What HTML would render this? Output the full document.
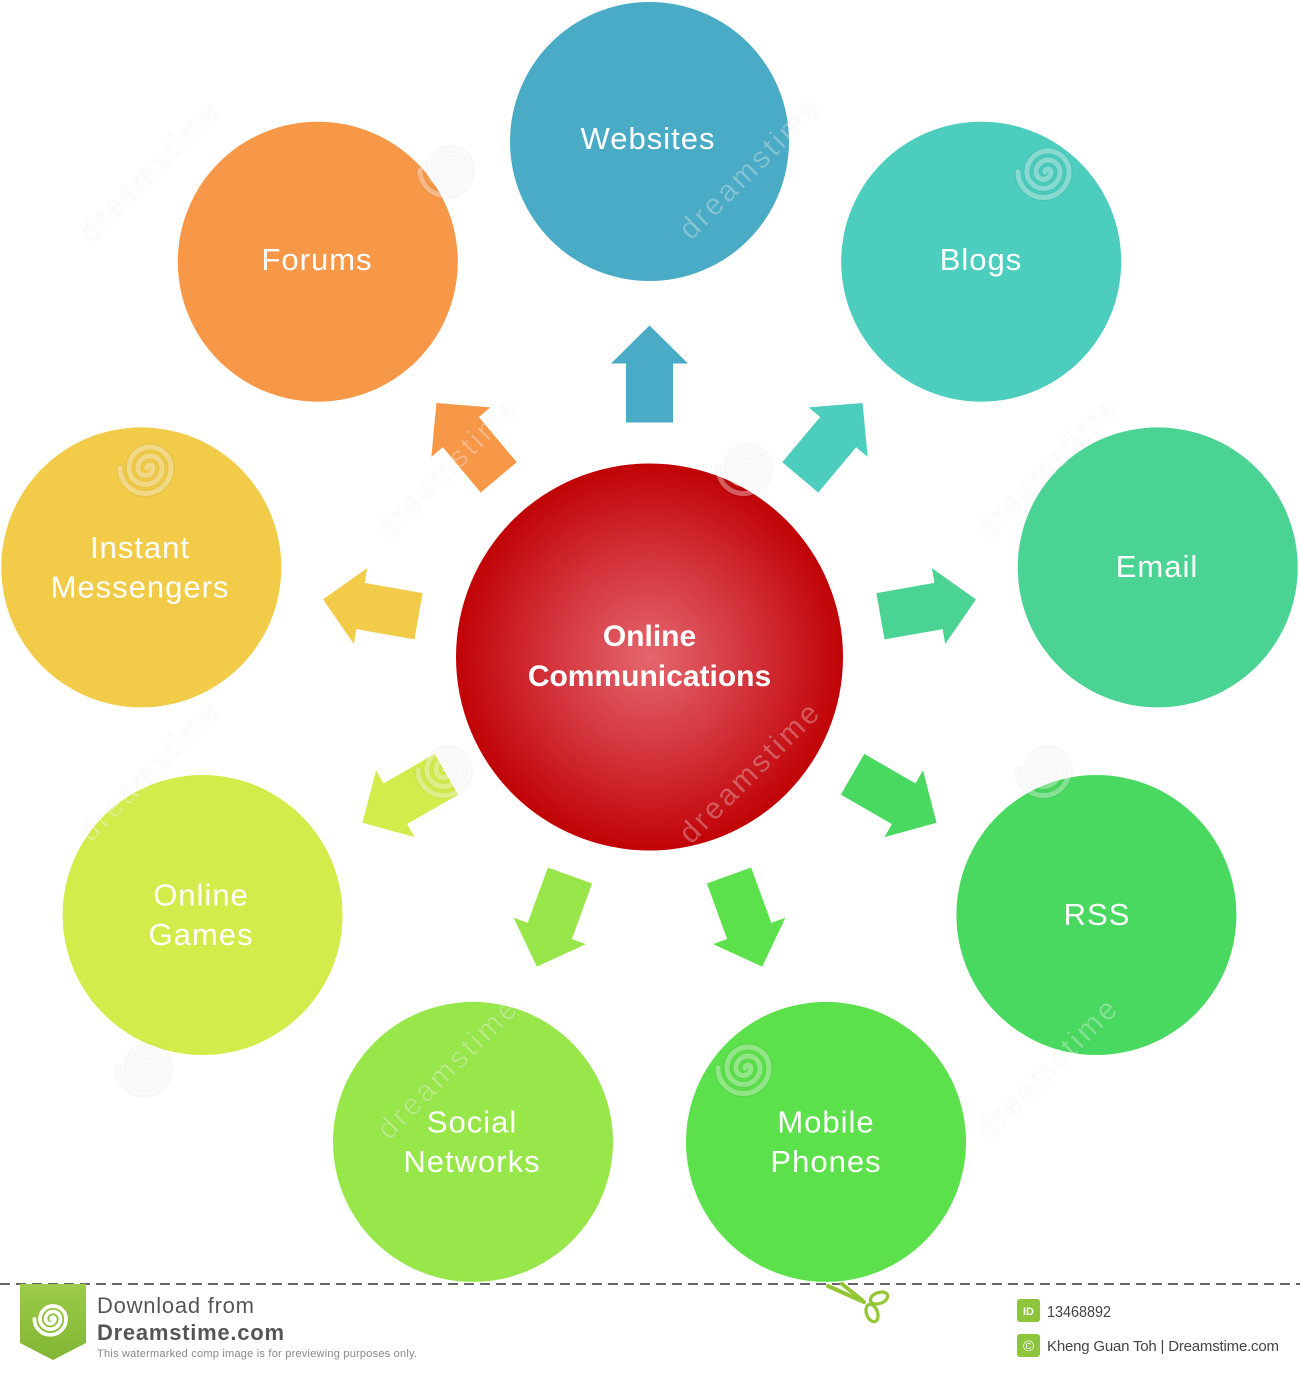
<!DOCTYPE html>
<html>
<head>
<meta charset="utf-8">
<style>
  html,body{margin:0;padding:0;background:#fff;}
  svg{display:block;}
  .lbl{font-family:"Liberation Sans",sans-serif;font-size:31px;fill:#fff;letter-spacing:1px;text-anchor:middle;}
  .ctr{font-family:"Liberation Sans",sans-serif;font-size:30px;font-weight:bold;fill:#fff;text-anchor:middle;}
  .wm{font-family:"Liberation Sans",sans-serif;font-size:30px;fill:#fff;fill-opacity:0.3;stroke:#000;stroke-opacity:0.03;stroke-width:1;letter-spacing:3px;text-anchor:middle;}
  .ft{font-family:"Liberation Sans",sans-serif;}
</style>
</head>
<body>
<svg width="1300" height="1373" viewBox="0 0 1300 1373" xmlns="http://www.w3.org/2000/svg">
  <defs>
    <radialGradient id="red" cx="0.5" cy="0.5" r="0.5">
      <stop offset="0" stop-color="#e4666e"/>
      <stop offset="0.55" stop-color="#d23038"/>
      <stop offset="1" stop-color="#c00306"/>
    </radialGradient>
    <linearGradient id="rib" x1="0" y1="0" x2="0" y2="1">
      <stop offset="0" stop-color="#9ccc48"/>
      <stop offset="1" stop-color="#82b534"/>
    </linearGradient>
    <polygon id="arr" points="-48.5,-23.5 10.5,-23.5 10.5,-38.5 48.5,0 10.5,38.5 10.5,23.5 -48.5,23.5"/>
    <path id="spiral" d="M -3 0 A 3 3 0 0 1 3 0 A 7.5 7.5 0 0 1 -12 0 A 12 12 0 0 1 12 0 A 16.5 16.5 0 0 1 -21 0 A 21 21 0 0 1 21 0 A 25.5 25.5 0 0 1 -30 0" fill="none"/>
  </defs>

  <!-- satellite circles -->
  <circle cx="649.5" cy="141.5" r="139.5" fill="#4aabc6"/>
  <circle cx="981.2" cy="261.7" r="140" fill="#4ccdbe"/>
  <circle cx="1157.7" cy="567.4" r="140" fill="#4bd393"/>
  <circle cx="1096.4" cy="915" r="140" fill="#4ad960"/>
  <circle cx="826" cy="1141.9" r="140" fill="#5ce14c"/>
  <circle cx="473" cy="1141.9" r="140" fill="#97e64a"/>
  <circle cx="202.6" cy="915" r="140" fill="#d4ec4b"/>
  <circle cx="141.3" cy="567.4" r="140" fill="#f2cb48"/>
  <circle cx="317.8" cy="261.7" r="140" fill="#f79748"/>

  <!-- center circle -->
  <circle cx="649.5" cy="657" r="193.5" fill="url(#red)"/>

  <!-- arrows -->
  <g transform="translate(649.5 657)">
    <use href="#arr" fill="#4aabc6" transform="rotate(-90) translate(283 0)"/>
    <use href="#arr" fill="#4ccdbe" transform="rotate(-50) translate(283 0)"/>
    <use href="#arr" fill="#4bd393" transform="rotate(-10) translate(283 0)"/>
    <use href="#arr" fill="#4ad960" transform="rotate(30) translate(283 0)"/>
    <use href="#arr" fill="#5ce14c" transform="rotate(70) translate(281 0)"/>
    <use href="#arr" fill="#97e64a" transform="rotate(110) translate(281 0)"/>
    <use href="#arr" fill="#d4ec4b" transform="rotate(150) translate(283 0)"/>
    <use href="#arr" fill="#f2cb48" transform="rotate(190) translate(283 0)"/>
    <use href="#arr" fill="#f79748" transform="rotate(230) translate(283 0)"/>
  </g>

  <!-- watermark spirals -->
  <g stroke-linecap="round">
    <g transform="translate(450 170)"><use href="#spiral" stroke="#000" stroke-opacity="0.03" stroke-width="8"/><use href="#spiral" stroke="#fff" stroke-opacity="0.35" stroke-width="5"/></g>
    <g transform="translate(1048 172)"><use href="#spiral" stroke="#000" stroke-opacity="0.03" stroke-width="8"/><use href="#spiral" stroke="#fff" stroke-opacity="0.35" stroke-width="5"/></g>
    <g transform="translate(150 468)"><use href="#spiral" stroke="#000" stroke-opacity="0.03" stroke-width="8"/><use href="#spiral" stroke="#fff" stroke-opacity="0.35" stroke-width="5"/></g>
    <g transform="translate(748 468)"><use href="#spiral" stroke="#000" stroke-opacity="0.03" stroke-width="8"/><use href="#spiral" stroke="#fff" stroke-opacity="0.35" stroke-width="5"/></g>
    <g transform="translate(448 770)"><use href="#spiral" stroke="#000" stroke-opacity="0.03" stroke-width="8"/><use href="#spiral" stroke="#fff" stroke-opacity="0.35" stroke-width="5"/></g>
    <g transform="translate(1048 770)"><use href="#spiral" stroke="#000" stroke-opacity="0.03" stroke-width="8"/><use href="#spiral" stroke="#fff" stroke-opacity="0.35" stroke-width="5"/></g>
    <g transform="translate(148 1068)"><use href="#spiral" stroke="#000" stroke-opacity="0.03" stroke-width="8"/><use href="#spiral" stroke="#fff" stroke-opacity="0.35" stroke-width="5"/></g>
    <g transform="translate(748 1068)"><use href="#spiral" stroke="#000" stroke-opacity="0.03" stroke-width="8"/><use href="#spiral" stroke="#fff" stroke-opacity="0.35" stroke-width="5"/></g>
  </g>

  <!-- watermark text -->
  <text class="wm" transform="translate(150 170) rotate(-45)" y="10">dreamstime</text>
  <text class="wm" transform="translate(750 168) rotate(-45)" y="10">dreamstime</text>
  <text class="wm" transform="translate(448 467) rotate(-45)" y="10">dreamstime</text>
  <text class="wm" transform="translate(1048 467) rotate(-45)" y="10">dreamstime</text>
  <text class="wm" transform="translate(150 770) rotate(-45)" y="10">dreamstime</text>
  <text class="wm" transform="translate(750 772) rotate(-45)" y="10">dreamstime</text>
  <text class="wm" transform="translate(448 1068) rotate(-45)" y="10">dreamstime</text>
  <text class="wm" transform="translate(1048 1068) rotate(-45)" y="10">dreamstime</text>

  <!-- labels -->
  <text class="lbl" x="648" y="149">Websites</text>
  <text class="lbl" x="981" y="270">Blogs</text>
  <text class="lbl" x="317" y="270">Forums</text>
  <text class="lbl" x="1157" y="577">Email</text>
  <text class="lbl" x="1097" y="925">RSS</text>
  <text class="lbl" x="140" y="558">Instant</text>
  <text class="lbl" x="140" y="597.5">Messengers</text>
  <text class="lbl" x="201" y="905.5">Online</text>
  <text class="lbl" x="201" y="945">Games</text>
  <text class="lbl" x="472" y="1132.5">Social</text>
  <text class="lbl" x="472" y="1172">Networks</text>
  <text class="lbl" x="826" y="1132.5">Mobile</text>
  <text class="lbl" x="826" y="1172">Phones</text>

  <text class="ctr" x="649.5" y="646">Online</text>
  <text class="ctr" x="649.5" y="686">Communications</text>

  <!-- footer -->
  <line x1="0" y1="1284" x2="1300" y2="1284" stroke="#333" stroke-width="1.5" stroke-dasharray="10 6"/>

  <polygon points="20,1284 86,1284 86,1343 53,1360 20,1343" fill="url(#rib)"/>
  <g transform="translate(53 1319) scale(0.62)" stroke="#fff" stroke-width="6" stroke-linecap="round">
    <use href="#spiral"/>
  </g>

  <text class="ft" x="97" y="1313" font-size="22" fill="#555" textLength="157" lengthAdjust="spacing">Download from</text>
  <text class="ft" x="97" y="1340" font-size="22" font-weight="bold" fill="#555" textLength="187" lengthAdjust="spacing">Dreamstime.com</text>
  <text class="ft" x="97" y="1357" font-size="11" fill="#888" textLength="320" lengthAdjust="spacing">This watermarked comp image is for previewing purposes only.</text>

  <!-- scissors -->
  <g fill="none" stroke="#93c635" stroke-width="3.2" stroke-linecap="round">
    <path d="M828 1286 L864 1302" stroke-width="4"/>
    <path d="M842 1284 L862 1300" stroke-width="4"/>
    <ellipse cx="879" cy="1298" rx="9" ry="5.5" transform="rotate(-20 879 1298)"/>
    <ellipse cx="872" cy="1313" rx="5.5" ry="9" transform="rotate(-20 872 1313)"/>
  </g>

  <rect x="1017" y="1299" width="23" height="23" rx="3" fill="#8cc43c"/>
  <text class="ft" x="1028.5" y="1315" font-size="11" font-weight="bold" fill="#fff" text-anchor="middle">ID</text>
  <text class="ft" x="1047" y="1317" font-size="16" fill="#444" textLength="64" lengthAdjust="spacingAndGlyphs">13468892</text>

  <rect x="1017" y="1334" width="23" height="23" rx="3" fill="#8cc43c"/>
  <text class="ft" x="1028.5" y="1351" font-size="15" fill="#fff" text-anchor="middle">©</text>
  <text class="ft" x="1047" y="1351" font-size="15" fill="#444" textLength="232" lengthAdjust="spacing">Kheng Guan Toh | Dreamstime.com</text>
</svg>
</body>
</html>
